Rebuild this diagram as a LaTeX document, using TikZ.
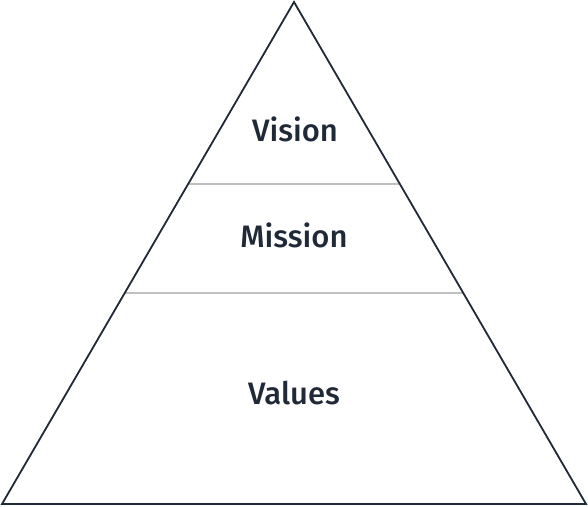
\documentclass[tikz,border=0pt]{standalone}
\usepackage{fontspec}
\setmainfont{Fira Sans}[UprightFont=* Medium]
\usetikzlibrary{calc}
\definecolor{ink}{HTML}{1F2937}
\definecolor{sep}{HTML}{C0C0C0}
\begin{document}
\begin{tikzpicture}[x=1pt,y=-1pt,
  outline/.style={draw=ink,line width=1.8pt,line join=miter},
  divider/.style={draw=sep,line width=1.4pt},
  lbl/.style={text=ink,font=\fontsize{31}{36}\selectfont,inner sep=0pt,anchor=base}]
\useasboundingbox (0,0) rectangle (588,506);
\coordinate (apex) at (294,2);
\coordinate (bl) at (2,504);
\coordinate (br) at (586,504);
\coordinate (a1) at ($(bl)!0.6375!(apex)$);
\coordinate (b1) at ($(br)!0.6375!(apex)$);
\coordinate (a2) at ($(bl)!0.4203!(apex)$);
\coordinate (b2) at ($(br)!0.4203!(apex)$);
\draw[divider] (a1) -- (b1);
\draw[divider] (a2) -- (b2);
\draw[outline] (apex) -- (br) -- (bl) -- cycle;
\node[lbl] (vision) at (295,141.8) {Vision};
\node[lbl] (mission) at (294,247.8) {Mission};
\node[lbl] (values) at (294,404.8) {Values};
\end{tikzpicture}
\end{document}
